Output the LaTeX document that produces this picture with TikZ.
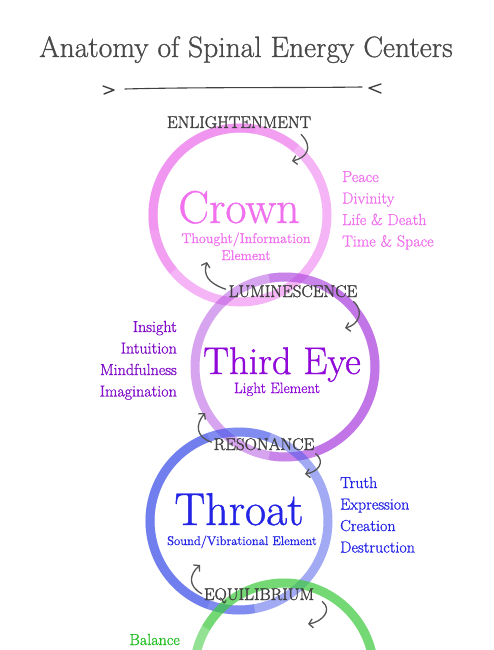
\documentclass[tikz,border=0pt]{standalone}
\usepackage{fontspec}
\setmainfont{Latin Modern Roman}[FakeBold=0.9]
\newfontfamily\labfont{Latin Modern Roman}[FakeBold=1.6]
\usetikzlibrary{arrows.meta}
\definecolor{pinkring}{HTML}{EE78EE}
\definecolor{pinktext}{HTML}{F070EE}
\definecolor{purpring}{HTML}{B04BE0}
\definecolor{purptext}{HTML}{9009D9}
\definecolor{purplist}{HTML}{800BC8}
\definecolor{bluering}{HTML}{4556E8}
\definecolor{bluetext}{HTML}{2424E6}
\definecolor{greenring}{HTML}{3CCB3C}
\definecolor{greentext}{HTML}{22BE22}
\definecolor{labgray}{HTML}{404040}
\definecolor{titlegray}{HTML}{484848}
\definecolor{arrgray}{HTML}{555555}
\begin{document}
\begin{tikzpicture}[x=1pt,y=-1pt,
  ring/.style={line width=9pt},
  lab/.style={font=\labfont\fontsize{17}{18}\selectfont, text=labgray, inner sep=0pt, anchor=base},
  listtxt/.style={font=\fontsize{16}{18}\selectfont, inner sep=0pt},
  subtxt/.style={font=\fontsize{14}{16}\selectfont, inner sep=0pt, anchor=base},
  arr/.style={draw=arrgray, line width=1.3pt, line cap=round, -{Straight Barb[length=4pt,width=9pt]}},
  chev/.style={draw=labgray, line width=1.4pt, line cap=round, line join=round}]
\useasboundingbox (0,0) rectangle (494,650);
\fill[white] (0,0) rectangle (494,650);

% ---- rings ----
% crown
\draw[ring, draw=pinkring, opacity=.55] (240,215) circle[radius=87];
\draw[ring, draw=pinkring, opacity=.35] (240,215) ++(140:87) arc[start angle=140, end angle=310, radius=87];
\draw[ring, draw=pinkring, opacity=.25] (240,215) ++(170:87) arc[start angle=170, end angle=280, radius=87];
% third eye
\draw[ring, draw=purpring, opacity=.5] (285,367) circle[radius=90];
\draw[ring, draw=purpring, opacity=.35] (285,367) ++(-100:90) arc[start angle=-100, end angle=100, radius=90];
\draw[ring, draw=purpring, opacity=.25] (285,367) ++(-60:90) arc[start angle=-60, end angle=70, radius=90];
% throat
\draw[ring, draw=bluering, opacity=.5] (239,521) circle[radius=89];
\draw[ring, draw=bluering, opacity=.35] (239,521) ++(80:89) arc[start angle=80, end angle=290, radius=89];
\draw[ring, draw=bluering, opacity=.25] (239,521) ++(110:89) arc[start angle=110, end angle=250, radius=89];
% root (green)
\draw[ring, draw=greenring, opacity=.55] (284,673) circle[radius=90];
\draw[ring, draw=greenring, opacity=.35] (284,673) ++(210:90) arc[start angle=210, end angle=350, radius=90];

% ---- title ----
\node[font=\fontsize{29.5}{31}\selectfont, text=titlegray, inner sep=0pt, anchor=base] (title) at (246,57) {Anatomy of Spinal Energy Centers};
\coordinate (ruleL) at (125,89);
\coordinate (ruleR) at (362,87);
\draw[draw=labgray, line width=1.1pt, line cap=round] (ruleL) .. controls (200,87) and (290,88) .. (ruleR);
\draw[chev] (103,86) -- (114,90) -- (104,94);
\draw[chev] (381,84) -- (369,88) -- (381,93);

% ---- crown ----
\node[font=\fontsize{46}{48}\selectfont, text=pinktext, inner sep=0pt, anchor=base] (crown) at (239,223) {Crown};
\node[subtxt, text=pinktext] (crownel1) at (246,243) {Thought/Information};
\node[subtxt, text=pinktext] (crownel2) at (246,260) {Element};
\node[listtxt, text=pinktext, anchor=base west] (p1) at (342,182) {Peace};
\node[listtxt, text=pinktext, anchor=base west] (p2) at (342,203.5) {Divinity};
\node[listtxt, text=pinktext, anchor=base west] (p3) at (342,225) {Life \& Death};
\node[listtxt, text=pinktext, anchor=base west] (p4) at (342,246.5) {Time \& Space};

% ---- third eye ----
\node[font=\fontsize{38.5}{40}\selectfont, text=purptext, inner sep=0pt, anchor=base] (third) at (282,374) {Third Eye};
\node[font=\fontsize{15}{17}\selectfont, text=purptext, inner sep=0pt, anchor=base] (thirdel) at (277,393) {Light Element};
\node[listtxt, text=purplist, anchor=base east] (q1) at (177,332) {Insight};
\node[listtxt, text=purplist, anchor=base east] (q2) at (177,353.5) {Intuition};
\node[listtxt, text=purplist, anchor=base east] (q3) at (177,375) {Mindfulness};
\node[listtxt, text=purplist, anchor=base east] (q4) at (177,396.5) {Imagination};

% ---- throat ----
\node[font=\fontsize{46}{48}\selectfont, text=bluetext, inner sep=0pt, anchor=base] (throat) at (239,525) {Throat};
\node[font=\fontsize{12.6}{14}\selectfont, text=bluetext, inner sep=0pt, anchor=base] (throatel) at (242,545) {Sound/Vibrational Element};
\node[listtxt, text=bluetext, anchor=base west] (b1) at (340,488) {Truth};
\node[listtxt, text=bluetext, anchor=base west] (b2) at (340,509.5) {Expression};
\node[listtxt, text=bluetext, anchor=base west] (b3) at (340,531) {Creation};
\node[listtxt, text=bluetext, anchor=base west] (b4) at (340,552.5) {Destruction};

% ---- root ----
\node[listtxt, text=greentext, anchor=base east] (g1) at (180,645) {Balance};

% ---- transition labels ----
\node[lab] (enl) at (239,128) {ENLIGHTENMENT};
\node[lab] (lum) at (293,297) {LUMINESCENCE};
\node[lab] (res) at (264,450) {RESONANCE};
\node[lab] (equ) at (259,600) {EQUILIBRIUM};

% ---- arrows ----
\coordinate (t1) at (292,161);
\coordinate (t2) at (207,262);
\coordinate (t3) at (345,328);
\coordinate (t4) at (205,413);
\coordinate (t5) at (305,474);
\coordinate (t6) at (200,565);
\coordinate (t7) at (308,624);
\draw[arr] ([shift={(-10,6)}]enl.south east) .. controls (314,148) and (306,158) .. (t1);
\draw[arr] ([shift={(-3,-2)}]lum.west) .. controls (208,283) and (203,275) .. (t2);
\draw[arr] ([shift={(-4,4)}]lum.south east) .. controls (365,312) and (358,325) .. (t3);
\draw[arr] ([shift={(-2,-2)}]res.west) .. controls (196,437) and (195,425) .. (t4);
\draw[arr] ([shift={(1,3)}]res.south east) .. controls (326,462) and (318,472) .. (t5);
\draw[arr] ([shift={(-2,-2)}]equ.west) .. controls (188,586) and (189,575) .. (t6);
\draw[arr] ([shift={(8,-2)}]equ.south east) .. controls (333,610) and (322,622) .. (t7);
\end{tikzpicture}
\end{document}
